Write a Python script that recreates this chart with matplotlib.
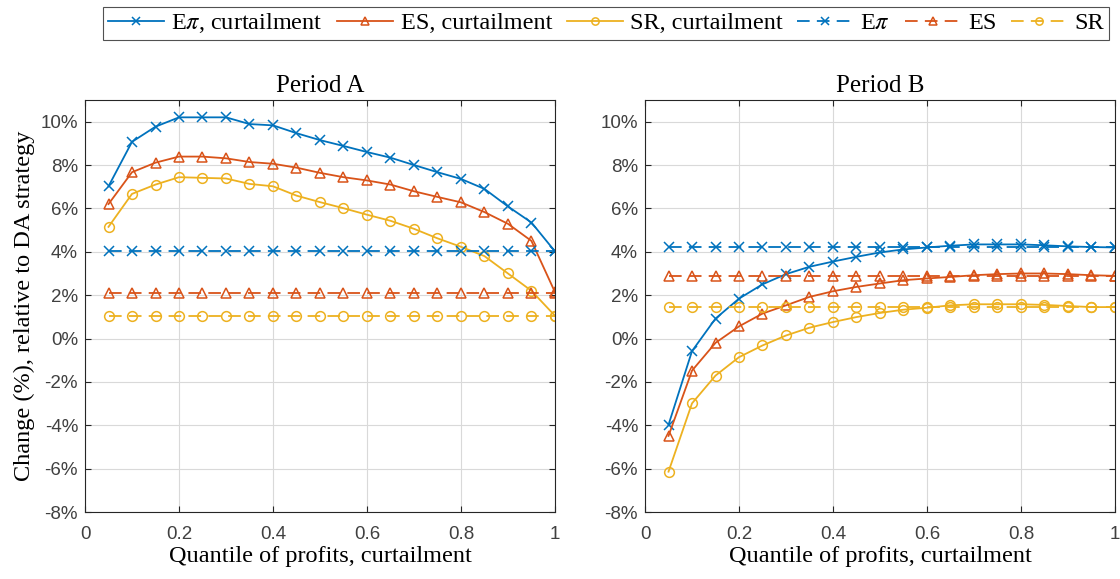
import matplotlib
matplotlib.use("Agg")
import matplotlib.pyplot as plt
from matplotlib.ticker import FuncFormatter

plt.rcParams["mathtext.fontset"] = "stix"

quantiles = [0.05, 0.10, 0.15, 0.20, 0.25, 0.30, 0.35, 0.40, 0.45, 0.50,
             0.55, 0.60, 0.65, 0.70, 0.75, 0.80, 0.85, 0.90, 0.95, 1.00]

# Period A
a_epi_curt = [7.02, 9.07, 9.77, 10.2, 10.2, 10.2, 9.89, 9.83, 9.47, 9.15,
              8.88, 8.60, 8.34, 8.00, 7.67, 7.36, 6.90, 6.09, 5.35, 4.02]
a_es_curt = [6.20, 7.67, 8.11, 8.39, 8.39, 8.31, 8.14, 8.06, 7.88, 7.64,
             7.44, 7.29, 7.10, 6.79, 6.53, 6.28, 5.83, 5.29, 4.50, 2.14]
a_sr_curt = [5.15, 6.67, 7.10, 7.44, 7.41, 7.38, 7.13, 7.02, 6.59, 6.29,
             6.01, 5.71, 5.43, 5.06, 4.62, 4.23, 3.80, 3.00, 2.20, 1.05]
a_epi = 4.05
a_es = 2.12
a_sr = 1.05

# Period B
b_epi_curt = [-3.98, -0.58, 0.92, 1.84, 2.50, 2.97, 3.31, 3.55, 3.77, 3.97,
              4.11, 4.20, 4.28, 4.34, 4.34, 4.34, 4.30, 4.25, 4.22, 4.20]
b_es_curt = [-4.49, -1.48, -0.20, 0.56, 1.15, 1.53, 1.92, 2.18, 2.38, 2.54,
             2.69, 2.77, 2.84, 2.92, 2.97, 3.00, 3.00, 2.97, 2.92, 2.89]
b_sr_curt = [-6.14, -2.99, -1.71, -0.86, -0.32, 0.14, 0.50, 0.76, 0.99, 1.18,
             1.33, 1.42, 1.53, 1.58, 1.58, 1.58, 1.55, 1.50, 1.45, 1.45]
b_epi = 4.21
b_es = 2.89
b_sr = 1.45

C_EPI, C_ES, C_SR = "#0072BD", "#D95319", "#EDB120"
SERIF = "Liberation Serif"
SANS = "Liberation Sans"
DASH = (0, (7, 4))

fig = plt.figure(figsize=(11.2, 5.79), dpi=100)
ax_a = fig.add_axes([0.0759, 0.1157, 0.4196, 0.7116])
ax_b = fig.add_axes([0.5759, 0.1157, 0.4196, 0.7116])


def draw(ax, epi_c, es_c, sr_c, epi, es, sr, title):
    n = len(quantiles)
    kw = dict(lw=1.3, ms=7, mew=1.1)
    h = []
    h += ax.plot(quantiles, epi_c, color=C_EPI, marker="x", label=r"E$\pi$, curtailment", **kw)
    h += ax.plot(quantiles, es_c, color=C_ES, marker="^", mfc="none", label="ES, curtailment", **kw)
    h += ax.plot(quantiles, sr_c, color=C_SR, marker="o", mfc="none", label="SR, curtailment", **kw)
    h += ax.plot(quantiles, [epi] * n, color=C_EPI, marker="x", ls=DASH, label=r"E$\pi$", **kw)
    h += ax.plot(quantiles, [es] * n, color=C_ES, marker="^", mfc="none", ls=DASH, label="ES", **kw)
    h += ax.plot(quantiles, [sr] * n, color=C_SR, marker="o", mfc="none", ls=DASH, label="SR", **kw)
    ax.set_xlim(0, 1)
    ax.set_ylim(-8, 11)
    ax.set_xticks([0, 0.2, 0.4, 0.6, 0.8, 1])
    ax.set_xticklabels(["0", "0.2", "0.4", "0.6", "0.8", "1"])
    ax.set_yticks(range(-8, 11, 2))
    ax.yaxis.set_major_formatter(FuncFormatter(lambda v, p: f"{v:.0f}%"))
    ax.grid(True, color="#d9d9d9", lw=0.8)
    ax.set_axisbelow(True)
    ax.tick_params(direction="in", top=True, right=True, length=4,
                   labelsize=13.5, colors="#262626", pad=5)
    ax.tick_params(axis="x", pad=10)
    for lab in ax.get_xticklabels() + ax.get_yticklabels():
        lab.set_family(SANS)
        lab.set_color("#404040")
    for s in ax.spines.values():
        s.set_color("#262626")
        s.set_linewidth(0.8)
    ax.set_title(title, family=SERIF, fontsize=18, pad=6)
    ax.set_xlabel("Quantile of profits, curtailment", family=SERIF, fontsize=17.5, labelpad=2)
    return h


handles = draw(ax_a, a_epi_curt, a_es_curt, a_sr_curt, a_epi, a_es, a_sr, "Period A")
draw(ax_b, b_epi_curt, b_es_curt, b_sr_curt, b_epi, b_es, b_sr, "Period B")
ax_a.set_ylabel("Change (%), relative to DA strategy", family=SERIF, fontsize=17.5, labelpad=4)

leg = fig.legend(handles=handles, loc="upper center", bbox_to_anchor=(0.541, 0.997),
                 ncol=6, frameon=True, fancybox=False, edgecolor="#262626",
                 prop={"family": SERIF, "size": 17.5}, handlelength=2.3,
                 handletextpad=0.3, columnspacing=0.6, borderpad=0.2,
                 borderaxespad=0.2, markerscale=0.75)
leg.get_frame().set_linewidth(0.8)

fig.savefig("out.png", dpi=100)
